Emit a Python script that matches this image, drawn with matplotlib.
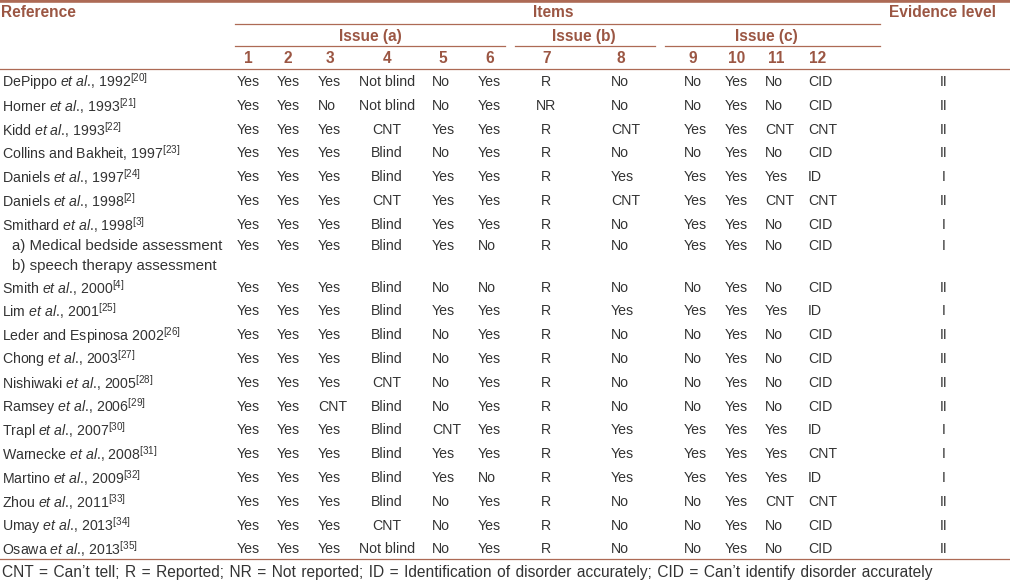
import matplotlib
matplotlib.use("Agg")
import matplotlib.pyplot as plt

plt.rcParams['font.family'] = ['Liberation Sans', 'DejaVu Sans']
plt.rcParams['mathtext.fontset'] = 'custom'
plt.rcParams['mathtext.rm'] = 'Liberation Sans'
plt.rcParams['mathtext.it'] = 'Liberation Sans:italic'
plt.rcParams['mathtext.bf'] = 'Liberation Sans:bold'

# ---------------- data ----------------
authors = ["DePippo", "Horner", "Kidd", "Collins and Bakheit,", "Daniels", "Daniels",
           "Smithard", "a) Medical bedside assessment", "b) speech therapy assessment",
           "Smith", "Lim", "Leder and Espinosa", "Chong", "Nishiwaki", "Ramsey",
           "Trapl", "Warnecke", "Martino", "Zhou", "Umay", "Osawa"]
etal = [True, True, True, False, True, True, True, None, None, True, True, False,
        True, True, True, True, True, True, True, True, True]
years = ["1992", "1993", "1993", "1997", "1997", "1998", "1998", "", "", "2000", "2001",
         "2002", "2003", "2005", "2006", "2007", "2008", "2009", "2011", "2013", "2013"]
cites = ["20", "21", "22", "23", "24", "2", "3", "", "", "4", "25", "26", "27", "28",
         "29", "30", "31", "32", "33", "34", "35"]

item1 = ["Yes"] * 8 + [""] + ["Yes"] * 12
item2 = ["Yes"] * 8 + [""] + ["Yes"] * 12
item3 = ["Yes", "No", "Yes", "Yes", "Yes", "Yes", "Yes", "Yes", "", "Yes", "Yes", "Yes",
         "Yes", "Yes", "CNT", "Yes", "Yes", "Yes", "Yes", "Yes", "Yes"]
item4 = ["Not blind", "Not blind", "CNT", "Blind", "Blind", "CNT", "Blind", "Blind", "",
         "Blind", "Blind", "Blind", "Blind", "CNT", "Blind", "Blind", "Blind", "Blind",
         "Blind", "CNT", "Not blind"]
item5 = ["No", "No", "Yes", "No", "Yes", "Yes", "Yes", "Yes", "", "No", "Yes", "No", "No",
         "No", "No", "CNT", "Yes", "Yes", "No", "No", "No"]
item6 = ["Yes", "Yes", "Yes", "Yes", "Yes", "Yes", "Yes", "No", "", "No", "Yes", "Yes",
         "Yes", "Yes", "Yes", "Yes", "Yes", "No", "Yes", "Yes", "Yes"]
item7 = ["R", "NR", "R", "R", "R", "R", "R", "R", "", "R", "R", "R", "R", "R", "R", "R",
         "R", "R", "R", "R", "R"]
item8 = ["No", "No", "CNT", "No", "Yes", "CNT", "No", "No", "", "No", "Yes", "No", "No",
         "No", "No", "Yes", "Yes", "Yes", "No", "No", "No"]
item9 = ["No", "No", "Yes", "No", "Yes", "Yes", "Yes", "Yes", "", "No", "Yes", "No", "No",
         "No", "No", "Yes", "Yes", "Yes", "No", "No", "No"]
item10 = ["Yes"] * 8 + [""] + ["Yes"] * 12
item11 = ["No", "No", "CNT", "No", "Yes", "CNT", "No", "No", "", "No", "Yes", "No", "No",
          "No", "No", "Yes", "Yes", "Yes", "CNT", "No", "No"]
item12 = ["CID", "CID", "CNT", "CID", "ID", "CNT", "CID", "CID", "", "CID", "ID", "CID",
          "CID", "CID", "CID", "ID", "CNT", "ID", "CNT", "CID", "CID"]
evidence = ["II", "II", "II", "II", "I", "II", "I", "I", "", "II", "I", "II", "II", "II",
            "II", "I", "I", "I", "II", "II", "II"]

items = [item1, item2, item3, item4, item5, item6, item7, item8, item9, item10, item11, item12]
item_labels = [str(i) for i in range(1, 13)]
issue_labels = ["Issue (a)", "Issue (b)", "Issue (c)"]
footnote = ("CNT = Can\u2019t tell; R = Reported; NR = Not reported; ID = Identification of "
            "disorder accurately; CID = Can\u2019t identify disorder accurately")

# ---------------- layout ----------------
W, H = 1010, 585
fig = plt.figure(figsize=(W / 100, H / 100), dpi=100)
ax = fig.add_axes([0, 0, 1, 1])
ax.set_xlim(0, W)
ax.set_ylim(H, 0)
ax.axis('off')

BROWN = '#9b5643'
LINE = '#ad6a55'
TXT = '#333333'
FS = 10.2
HFS = 11.2
WIDE = " \u200a"   # slightly wider word spacing as in the reference typesetting

col_x = [237, 277, 318, 387, 432, 478, 546, 611, 684, 725, 765, 808]
col_ha = ['left', 'left', 'left', 'center', 'left', 'left', 'center', 'left', 'left',
          'left', 'left', 'left']
hdr_x = [248, 288, 330, 387, 443, 490, 547, 621, 693, 737, 776, 818]
ev_x = 944

row_h = []
for a in authors:
    row_h.append(19.5 if a.startswith(('a)', 'b)')) else 23.8)
ys = []
y = 82
for i, h in enumerate(row_h):
    if i > 0:
        y += (row_h[i] + row_h[i - 1]) / 2
    ys.append(y)

# rules
ax.plot([0, W], [1.3, 1.3], color=LINE, lw=2.6, solid_capstyle='butt')
ax.plot([235, 880], [23.5, 23.5], color=LINE, lw=0.9)
for x0, x1 in [(235, 505), (515, 655), (665, 880)]:
    ax.plot([x0, x1], [46, 46], color=LINE, lw=0.9)
ax.plot([0, W], [69, 69], color=LINE, lw=0.9)
ax.plot([0, W], [559, 559], color=LINE, lw=0.9)

# headers
hkw = dict(color=BROWN, fontsize=HFS, fontweight='bold', va='center')
ax.text(1, 12.5, "Reference", ha='left', **hkw)
ax.text(553, 12.5, "Items", ha='center', **hkw)
ax.text(889, 12.5, "Evidence level", ha='left', **hkw)
for lab, xc in zip(issue_labels, [370, 584, 766]):
    ax.text(xc, 36, lab, ha='center', **hkw)
for lab, xc in zip(item_labels, hdr_x):
    ax.text(xc, 58.5, lab, ha='center', **hkw)

# body
for i, yy in enumerate(ys):
    a = authors[i]
    if etal[i] is None:
        ax.text(12, yy, a, ha='left', va='center', color=TXT, fontsize=10.8)
    else:
        s = a
        if etal[i]:
            s += r" $\mathit{et\ al}$.,"
        s += " " + years[i] + r"$^{[" + cites[i] + r"]}$"
        ax.text(2, yy, s, ha='left', va='center', color=TXT, fontsize=FS)
    for j, col in enumerate(items):
        if col[i]:
            ax.text(col_x[j], yy, col[i], ha=col_ha[j], va='center', color=TXT, fontsize=FS)
    if evidence[i]:
        ax.text(ev_x, yy, evidence[i], ha='center', va='center', color=TXT, fontsize=FS)

ax.text(2, 573, footnote.replace(" ", WIDE), ha='left', va='center', color=TXT,
        fontsize=11.2)

fig.savefig("out.png", dpi=100, facecolor='white')
